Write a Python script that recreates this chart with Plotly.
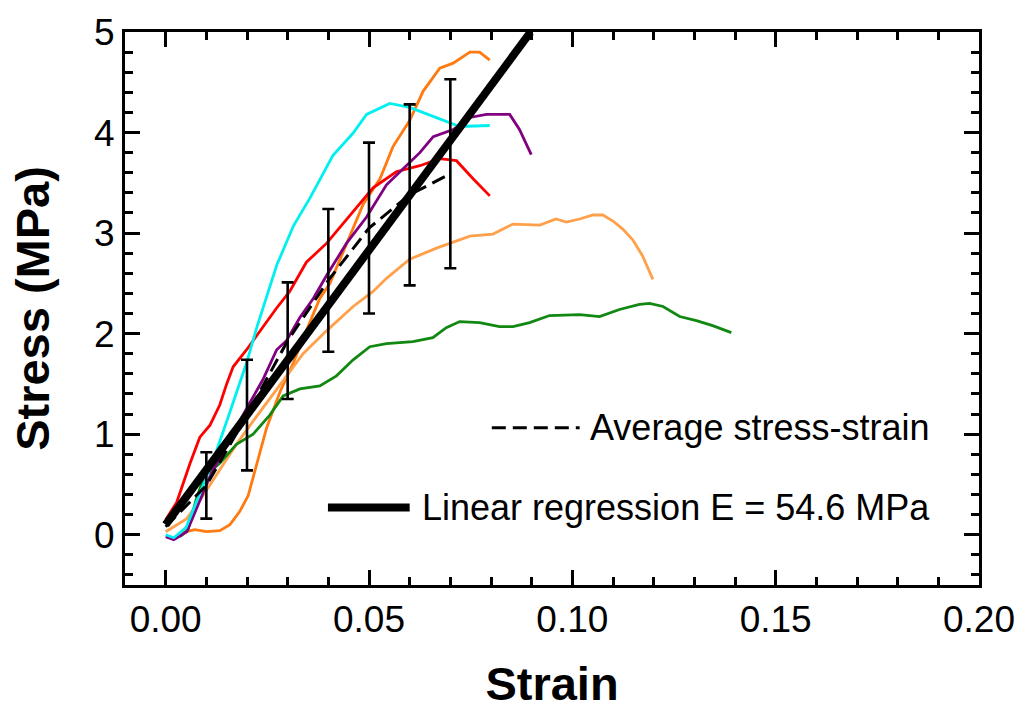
import plotly.graph_objects as go

# ---- specimen stress-strain curves (strain, stress in MPa) ----
cyan_strain = [0.0, 0.002, 0.005, 0.0084, 0.0117, 0.0158, 0.0199, 0.0224, 0.0245, 0.0273, 0.0314,
               0.0355, 0.0411, 0.046, 0.0494, 0.0525, 0.0551, 0.060, 0.0666, 0.0723, 0.0797]
cyan_stress = [0.0, -0.03, 0.07, 0.42, 0.74, 1.22, 1.71, 2.06, 2.33, 2.68, 3.07,
               3.35, 3.77, 3.99, 4.18, 4.24, 4.29, 4.25, 4.15, 4.06, 4.07]

red_strain = [0.0, 0.0027, 0.006, 0.0084, 0.0109, 0.0133, 0.015, 0.0166, 0.0199, 0.0232, 0.0272, 0.0305,
              0.0346, 0.0396, 0.0461, 0.051, 0.0567, 0.0625, 0.0674, 0.0715, 0.0756, 0.0797]
red_stress = [0.15, 0.32, 0.71, 0.97, 1.09, 1.29, 1.50, 1.67, 1.84, 2.03, 2.25, 2.42,
              2.71, 2.90, 3.22, 3.45, 3.61, 3.67, 3.74, 3.72, 3.54, 3.37]

purple_strain = [0.0, 0.002, 0.0052, 0.0076, 0.0109, 0.015, 0.0199, 0.024, 0.0273, 0.0297, 0.033,
                 0.0363, 0.0396, 0.0445, 0.0494, 0.0543, 0.0584, 0.0625, 0.0658, 0.0707, 0.0748,
                 0.0789, 0.0846, 0.087, 0.0899]
purple_stress = [-0.02, -0.05, 0.03, 0.26, 0.58, 0.90, 1.26, 1.55, 1.84, 1.93, 2.16,
                 2.35, 2.58, 2.90, 3.16, 3.48, 3.64, 3.80, 3.96, 4.03, 4.15,
                 4.18, 4.18, 4.03, 3.78]

dkorange_strain = [0.004, 0.0072, 0.01, 0.0133, 0.0158, 0.0182, 0.0203, 0.0224, 0.0248, 0.0281,
                   0.0314, 0.0346, 0.0379, 0.0404, 0.0445, 0.0486, 0.0527, 0.0559, 0.06, 0.0633,
                   0.0674, 0.0707, 0.0748, 0.0772, 0.0797]
dkorange_stress = [0.02, 0.05, 0.03, 0.04, 0.10, 0.23, 0.39, 0.71, 1.06, 1.42,
                   1.71, 2.03, 2.35, 2.50, 2.90, 3.29, 3.54, 3.86, 4.12, 4.41,
                   4.64, 4.69, 4.80, 4.80, 4.72]

ltorange_strain = [0.0, 0.0052, 0.0092, 0.0133, 0.0174, 0.0215, 0.0256, 0.0297, 0.0338, 0.0396,
                   0.0461, 0.051, 0.0543, 0.06, 0.0666, 0.0748, 0.0805, 0.0854, 0.092, 0.096,
                   0.0985, 0.1018, 0.1051, 0.1075, 0.11, 0.1124, 0.1149, 0.1173, 0.1198]
ltorange_stress = [0.03, 0.16, 0.39, 0.64, 0.90, 1.13, 1.35, 1.58, 1.80, 2.03,
                   2.27, 2.42, 2.55, 2.74, 2.85, 2.97, 2.99, 3.09, 3.08, 3.14,
                   3.11, 3.14, 3.18, 3.18, 3.12, 3.04, 2.93, 2.77, 2.54]

green_strain = [0.0035, 0.0055, 0.0075, 0.0095, 0.0133, 0.0174, 0.0215, 0.0256, 0.0289, 0.033,
                0.0379, 0.042, 0.0461, 0.0502, 0.0543, 0.0608, 0.0657, 0.069, 0.0723, 0.0772,
                0.0821, 0.0854, 0.0895, 0.0944, 0.1018, 0.1067, 0.1116, 0.1165, 0.119, 0.1223,
                0.1264, 0.1305, 0.1345, 0.1391]
green_stress = [-0.02, 0.05, 0.35, 0.58, 0.71, 0.90, 1.00, 1.19, 1.38, 1.45,
                1.48, 1.58, 1.74, 1.87, 1.90, 1.92, 1.96, 2.06, 2.12, 2.11,
                2.07, 2.07, 2.11, 2.18, 2.19, 2.17, 2.24, 2.29, 2.30, 2.27,
                2.17, 2.13, 2.08, 2.01]

# ---- averaged curve with standard deviation ----
avg_strain = [0.00, 0.01, 0.02, 0.03, 0.04, 0.05, 0.06, 0.07]
avg_stress = [0.08, 0.49, 1.19, 1.93, 2.53, 3.05, 3.38, 3.59]
avg_sd = [0.00, 0.33, 0.55, 0.58, 0.71, 0.85, 0.90, 0.94]

# ---- linear regression of the average curve ----
modulus_mpa = 54.6
intercept_mpa = 0.10
reg_strain = [0.0, 0.0897]

FONT = "Liberation Sans, Arial, sans-serif"

specimens = [
    (dkorange_strain, dkorange_stress, "#ff7a10"),
    (ltorange_strain, ltorange_stress, "#ffa04a"),
    (green_strain, green_stress, "#118811"),
    (red_strain, red_stress, "#ff0000"),
    (purple_strain, purple_stress, "#800080"),
    (cyan_strain, cyan_stress, "#00f0f0"),
]

fig = go.Figure()
for i, (xs, ys, col) in enumerate(specimens):
    fig.add_trace(go.Scatter(x=xs, y=ys, mode="lines", name=f"Specimen {i + 1}",
                             line=dict(color=col, width=2.8), showlegend=False))

fig.add_trace(go.Scatter(
    x=reg_strain, y=[modulus_mpa * e + intercept_mpa for e in reg_strain],
    mode="lines", line=dict(color="black", width=8), showlegend=False))

fig.add_trace(go.Scatter(
    x=avg_strain, y=avg_stress, mode="lines",
    line=dict(color="black", width=3, dash="14px,7px"), showlegend=False))

fig.add_trace(go.Scatter(
    x=avg_strain[1:], y=avg_stress[1:], mode="markers",
    marker=dict(size=1, color="rgba(0,0,0,0)"),
    error_y=dict(type="data", array=avg_sd[1:], visible=True,
                 color="black", thickness=2.6, width=6),
    showlegend=False))

# legend drawn inside the plot area
fig.add_shape(type="line", xref="x", yref="y", x0=0.0802, x1=0.1018, y0=1.063, y1=1.063,
              line=dict(color="black", width=3, dash="14px,7px"))
fig.add_annotation(x=0.1038, y=1.063, xref="x", yref="y", xanchor="left", yanchor="middle",
                   text="Average stress-strain", showarrow=False,
                   font=dict(family=FONT, size=36, color="black"))
fig.add_shape(type="line", xref="x", yref="y", x0=0.0399, x1=0.0600, y0=0.27, y1=0.27,
              line=dict(color="black", width=8))
fig.add_annotation(x=0.0625, y=0.27, xref="x", yref="y", xanchor="left", yanchor="middle",
                   text="Linear regression E = 54.6 MPa", showarrow=False,
                   font=dict(family=FONT, size=36, color="black"))

axis_common = dict(
    showline=True, linecolor="black", linewidth=3, mirror="ticks",
    ticks="inside", ticklen=15, tickwidth=3, tickcolor="black",
    showgrid=False, zeroline=False,
    tickfont=dict(family=FONT, size=37, color="black"),
)

fig.update_xaxes(
    range=[-0.01, 0.20], dtick=0.05, tick0=0, tickformat=".2f",
    minor=dict(dtick=0.01, ticks="inside", ticklen=8, tickwidth=3, tickcolor="black"),
    title=dict(text="<b>Strain</b>", font=dict(family=FONT, size=47, color="black"), standoff=28),
    **axis_common)
fig.update_yaxes(
    range=[-0.5, 5.0], dtick=1, tick0=0,
    minor=dict(dtick=0.2, ticks="inside", ticklen=8, tickwidth=3, tickcolor="black"),
    title=dict(text="<b>Stress (MPa)</b>", font=dict(family=FONT, size=47, color="black"), standoff=30),
    **axis_common)

fig.update_layout(
    width=1027, height=713,
    margin=dict(l=125, r=47, t=22, b=121),
    paper_bgcolor="white", plot_bgcolor="white",
    showlegend=False,
)

fig.write_html("out.html")
